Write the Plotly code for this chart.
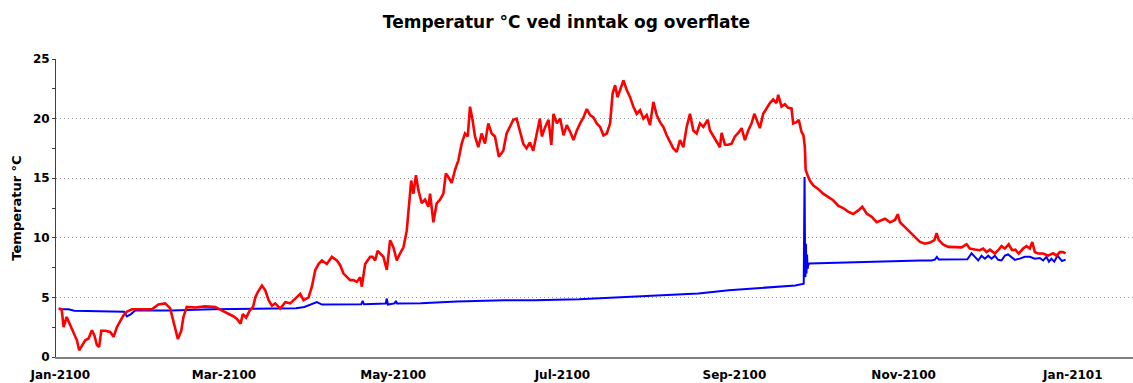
import pandas as pd
import plotly.graph_objects as go

START = pd.Timestamp("2100-01-01")

# Overflate (surface) temperature: day offset from 1 Jan and value in °C
overflate_day = [
    -0.6, 0.5, 1.2, 2.3, 3.6, 4.8, 6.0, 6.8, 7.8, 9.0, 10.2, 11.4, 12.3, 13.2, 14.0, 14.8,
    16.2, 18.0, 19.2, 20.4, 21.6, 22.8, 24.0, 25.8, 29.4, 33.0, 35.4, 37.8, 39.6, 40.8, 41.7,
    42.4, 43.6, 44.4, 45.6, 48.6, 52.2, 55.9, 57.5, 58.3, 60.7, 62.5, 63.7, 65.0, 65.8, 67.0,
    68.3, 69.5, 70.3, 71.2, 72.7, 73.9, 75.1, 76.3, 77.5, 79.3, 81.1, 82.9, 84.7, 86.5, 87.7,
    89.5, 90.7, 91.9, 93.1, 94.3, 96.1, 97.9, 99.7, 100.9, 102.1, 103.3, 104.5, 105.7, 106.9,
    108.1, 108.7, 109.9, 111.7, 112.6, 113.5, 114.4, 115.3, 116.5, 117.7, 118.9, 120.1, 121.3,
    122.5, 123.7, 124.9, 125.5, 126.5, 127.3, 128.2, 129.1, 130.3, 131.5, 132.7, 133.3, 134.5,
    135.7, 136.9, 138.1, 139.0, 139.9, 141.1, 142.3, 143.5, 144.7, 145.9, 146.9, 147.7, 148.6,
    149.5, 150.7, 151.9, 153.1, 154.3, 155.5, 156.7, 158.1, 159.7, 160.9, 162.1, 163.3, 164.5,
    165.7, 166.9, 168.1, 169.3, 170.5, 171.7, 172.9, 173.6, 174.8, 176.0, 177.0, 177.8, 179.0,
    180.2, 181.4, 182.6, 183.8, 185.0, 186.2, 187.4, 188.6, 189.8, 191.0, 192.2, 193.4, 194.6,
    195.8, 197.0, 198.2, 199.1, 200.0, 200.9, 202.1, 203.0, 204.2, 205.4, 206.6, 207.8, 209.0,
    210.2, 211.4, 212.6, 213.8, 215.0, 216.2, 217.4, 218.6, 219.8, 221.0, 222.2, 223.4, 224.6,
    225.8, 227.0, 228.2, 229.4, 230.6, 231.8, 233.4, 234.2, 235.4, 236.6, 237.8, 238.4, 239.6,
    240.8, 242.0, 243.2, 244.4, 245.6, 246.8, 248.0, 249.2, 250.2, 251.0, 252.2, 253.4, 254.6,
    255.8, 257.0, 258.2, 258.8, 260.0, 261.2, 262.4, 263.6, 264.2, 265.4, 266.2, 267.2, 267.9,
    268.4, 268.7, 269.4, 270.2, 271.4, 273.2, 275.0, 276.8, 278.6, 280.4, 282.2, 284.0, 285.8,
    287.7, 289.1, 290.7, 292.5, 294.3, 296.1, 297.3, 299.1, 300.9, 301.9, 302.7, 304.5, 306.3,
    308.1, 309.9, 311.7, 313.5, 315.1, 315.9, 316.7, 318.3, 320.1, 322.5, 324.9, 326.7, 327.9,
    329.7, 331.5, 332.7, 333.9, 335.1, 336.9, 338.1, 339.3, 340.5, 341.9, 343.1, 344.3, 345.5,
    347.1, 348.3, 349.5, 350.4, 351.3, 352.5, 354.3, 356.1, 357.9, 359.1, 360.3, 361.5, 362.4,
]
overflate_temp = [
    4.06, 4.0, 2.5, 3.36, 2.66, 2.1, 1.4, 0.56, 1.0, 1.4, 1.55, 2.24, 1.8, 1.0, 0.85, 2.2,
    2.2, 2.1, 1.7, 2.5, 3.0, 3.5, 3.8, 4.0, 4.0, 4.0, 4.4, 4.5, 4.1, 3.0, 2.2,
    1.5, 2.2, 3.36, 4.2, 4.15, 4.25, 4.2, 4.0, 3.9, 3.65, 3.4, 3.2, 2.8, 3.6, 3.3,
    3.9, 4.2, 5.0, 5.45, 6.0, 5.6, 4.76, 4.3, 4.5, 4.06, 4.6, 4.5, 4.9, 5.3, 4.76,
    5.0, 5.9, 7.28, 7.8, 8.1, 7.8, 8.4, 8.1, 7.7, 7.0, 6.7, 6.45, 6.45, 6.3,
    6.7, 5.9, 7.8, 8.4, 8.4, 8.1, 8.9, 8.7, 8.4, 7.3, 9.8, 9.2, 8.1,
    8.7, 9.2, 10.6, 12.3, 14.8, 13.7, 15.25, 14.0, 12.9, 13.2, 12.6, 13.7, 11.3,
    12.9, 13.2, 13.7, 15.4, 15.1, 14.6, 15.7, 16.5, 17.9, 18.75, 18.5, 21.0, 19.9,
    18.5, 17.6, 18.75, 17.9, 19.6, 18.75, 18.5, 16.8, 17.3, 18.75, 19.3, 19.9, 20.0,
    19.0, 17.9, 17.5, 18.0, 17.3, 18.75, 20.0, 18.5, 19.3, 19.9, 17.8, 20.4, 19.6,
    20.0, 18.6, 19.45, 18.9, 18.2, 19.0, 19.6, 20.1, 20.8, 20.3, 20.1, 19.6, 19.3,
    18.6, 18.75, 19.6, 22.1, 22.8, 21.8, 22.7, 23.2, 22.4, 21.8, 21.0, 20.4, 20.7,
    20.0, 20.3, 19.45, 21.4, 20.3, 19.7, 19.3, 18.6, 18.0, 17.5, 17.2, 18.2, 17.6,
    19.3, 20.4, 19.0, 18.75, 19.6, 19.3, 19.9, 19.0, 18.5, 18.0, 17.6, 18.8, 17.8,
    17.8, 17.9, 18.5, 18.8, 19.2, 18.2, 19.0, 19.6, 20.4, 19.9, 19.2, 20.4, 20.85,
    21.3, 21.6, 21.3, 22.0, 21.0, 21.2, 20.9, 20.85, 19.6, 19.7, 19.9, 18.9, 18.6,
    17.6, 15.7, 15.25, 14.8, 14.4, 14.1, 13.7, 13.4, 13.15, 12.7, 12.5, 12.2, 12.0,
    12.3, 12.6, 12.04, 11.76, 11.3, 11.5, 11.6, 11.3, 11.5, 11.98, 11.3, 10.9, 10.5,
    10.1, 9.65, 9.5, 9.6, 9.8, 10.4, 9.8, 9.43, 9.24, 9.2, 9.2, 9.46, 9.1,
    9.02, 8.96, 9.1, 8.8, 9.0, 8.68, 8.96, 9.3, 9.1, 9.46, 8.96, 9.0, 8.68,
    9.1, 9.3, 9.1, 9.65, 8.8, 8.68, 8.68, 8.5, 8.7, 8.5, 8.8, 8.8, 8.7,
]

# Inntak (intake) temperature: day offset from 1 Jan and value in °C
inntak_day = [
    -0.5, 3.0, 5.0, 15.0, 20.0, 23.0, 24.0, 25.5, 27.0, 40.0, 55.0, 70.0, 85.0, 88.0, 91.0,
    92.5, 94.3, 108.5, 109.0, 109.5, 117.3, 117.7, 118.1, 120.5, 121.0, 121.4, 130.0, 143.0,
    160.0, 171.0, 187.0, 200.0, 208.0, 220.0, 230.0, 241.0, 253.0, 265.0, 268.0, 268.3, 268.5,
    268.6, 268.8, 269.0, 269.2, 269.4, 269.6, 270.0, 277.0, 288.0, 300.0, 310.0, 314.0, 315.3,
    316.0, 316.7, 327.0, 328.5, 329.7, 330.9, 332.1, 333.3, 334.5, 335.7, 336.9, 338.1, 339.3,
    340.5, 341.7, 342.9, 344.1, 345.9, 347.7, 349.5, 351.3, 353.1, 354.3, 355.5, 356.4, 357.3,
    358.3, 359.5, 360.3, 361.1, 362.4,
]
inntak_temp = [
    4.0, 4.0, 3.88, 3.85, 3.8, 3.8, 3.4, 3.6, 3.9, 3.9, 4.0, 4.06, 4.1, 4.2, 4.45,
    4.6, 4.4, 4.42, 4.7, 4.42, 4.48, 4.9, 4.4, 4.5, 4.7, 4.48, 4.5, 4.65,
    4.76, 4.76, 4.85, 5.0, 5.1, 5.2, 5.32, 5.6, 5.82, 6.0, 6.15, 15.1, 8.0,
    6.7, 9.5, 7.0, 8.6, 7.4, 7.7, 7.85, 7.9, 8.0, 8.05, 8.1, 8.1, 8.17,
    8.4, 8.17, 8.2, 8.7, 8.4, 8.1, 8.5, 8.25, 8.5, 8.25, 8.5, 8.15, 8.1,
    8.5, 8.6, 8.4, 8.15, 8.25, 8.4, 8.4, 8.25, 8.3, 8.1, 8.4, 8.0, 8.25,
    8.0, 8.5, 8.25, 8.05, 8.17,
]


def to_dates(days):
    return START + pd.to_timedelta(days, unit="D")


FONT = "DejaVu Sans"

fig = go.Figure()
fig.add_trace(go.Scatter(
    x=to_dates(inntak_day), y=inntak_temp, mode="lines",
    line=dict(color="#0000FF", width=2), name="Inntak",
))
fig.add_trace(go.Scatter(
    x=to_dates(overflate_day), y=overflate_temp, mode="lines",
    line=dict(color="#FF0000", width=2.6), name="Overflate",
))

fig.update_layout(
    width=1133, height=383,
    margin=dict(l=56, r=0, t=59, b=26),
    paper_bgcolor="white", plot_bgcolor="white",
    showlegend=False,
    font=dict(family=FONT, size=12, color="#000000"),
    title=dict(
        text="Temperatur °C ved inntak og overflate",
        x=0.5, xanchor="center", y=0.943, yanchor="middle",
        font=dict(family=FONT, size=17, color="#000000", weight="bold"),
    ),
)

fig.update_xaxes(
    type="date",
    range=[START - pd.Timedelta(hours=37), START + pd.Timedelta(days=386.7)],
    dtick="M2", tick0="2100-01-01", tickformat="%b-%Y",
    showgrid=False, zeroline=False,
    showline=True, linecolor="#808080", linewidth=2,
    ticks="", ticklabelstandoff=6,
    tickfont=dict(family=FONT, size=12, color="#000000", weight="bold"),
    automargin=False,
)

fig.update_yaxes(
    range=[0, 25], dtick=5, tick0=0,
    showgrid=True, gridcolor="#999999", gridwidth=1, griddash="1px,3px",
    zeroline=False,
    showline=True, linecolor="#404040", linewidth=1,
    ticks="outside", ticklen=3, tickcolor="#404040",
    minor=dict(dtick=2.5, ticks="outside", ticklen=3, tickcolor="#404040", showgrid=False),
    tickfont=dict(family=FONT, size=12, color="#000000", weight="bold"),
    title=dict(text="Temperatur °C", standoff=8,
               font=dict(family=FONT, size=13, color="#000000", weight="bold")),
    automargin=False,
)

fig.write_html("out.html")
